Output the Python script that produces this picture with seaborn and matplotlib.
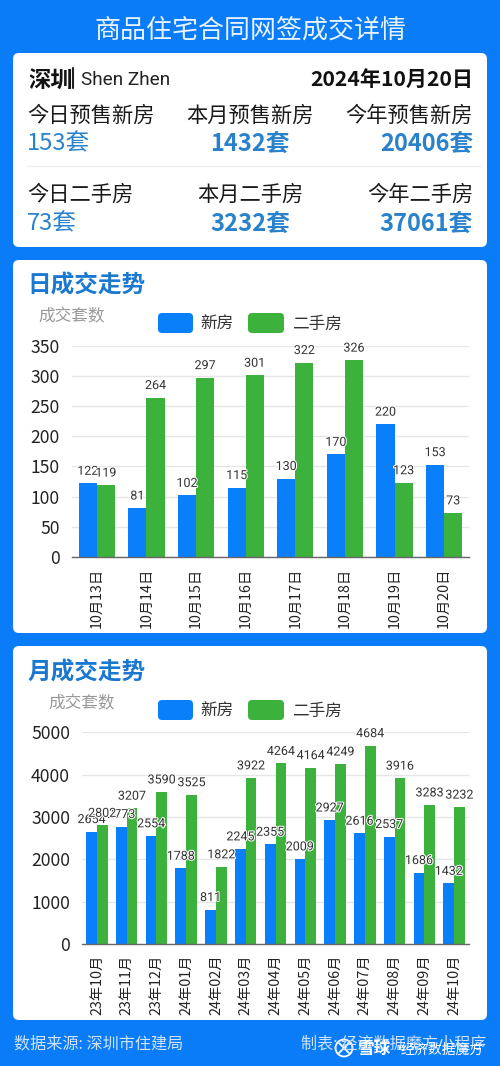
import matplotlib
matplotlib.use("Agg")
import matplotlib.pyplot as plt
import matplotlib.patches as patches
import matplotlib.patheffects as effects
import pandas as pd
import seaborn as sns

sns.set_theme(style="white")
plt.rcParams['font.family'] = ['Noto Sans CJK SC', 'DejaVu Sans']

W, H = 500, 1066
bg_color = "#0a7cf7"
new_color = "#0a7ffa"
used_color = "#3cb13c"
title_color = "#1b78d0"
value_color = "#2a82cc"

day_labels = ["10月13日", "10月14日", "10月15日", "10月16日", "10月17日", "10月18日", "10月19日", "10月20日"]
day_new = [122, 81, 102, 115, 130, 170, 220, 153]
day_used = [119, 264, 297, 301, 322, 326, 123, 73]

month_labels = ["23年10月", "23年11月", "23年12月", "24年01月", "24年02月", "24年03月", "24年04月",
                "24年05月", "24年06月", "24年07月", "24年08月", "24年09月", "24年10月"]
month_new = [2654, 2773, 2554, 1788, 811, 2245, 2355, 2009, 2927, 2616, 2537, 1686, 1432]
month_used = [2802, 3207, 3590, 3525, 1822, 3922, 4264, 4164, 4249, 4684, 3916, 3283, 3232]

presale_heads = ["今日预售新房", "本月预售新房", "今年预售新房"]
presale_values = ["153套", "1432套", "20406套"]
resale_heads = ["今日二手房", "本月二手房", "今年二手房"]
resale_values = ["73套", "3232套", "37061套"]


def card(bg, top, bottom):
    bg.add_patch(patches.FancyBboxPatch((13 + 5, top + 5), 474 - 10, bottom - top - 10,
                                        boxstyle="round,pad=5,rounding_size=6",
                                        facecolor="white", edgecolor="none"))


def legend_key(bg, x0, x1, yc, color):
    bg.add_patch(patches.FancyBboxPatch((x0 + 3, yc - 7), x1 - x0 - 6, 14,
                                        boxstyle="round,pad=3,rounding_size=4",
                                        facecolor=color, edgecolor="none"))


def bar_panel(fig, bg, left, y_top, y_zero, labels, new, used, ymax, step, title, title_x, title_y,
              unit_x, unit_y, legend_y, width):
    ax = fig.add_axes([left / W, 1 - y_zero / H, (469 - left) / W, (y_zero - y_top) / H])
    ax.patch.set_alpha(0)
    df = pd.DataFrame({"date": labels * 2,
                       "count": new + used,
                       "kind": ["新房"] * len(labels) + ["二手房"] * len(labels)})
    sns.barplot(data=df, x="date", y="count", hue="kind", hue_order=["新房", "二手房"],
                palette=[new_color, used_color], saturation=1, width=width, gap=0,
                linewidth=0, legend=False, ax=ax, zorder=2)
    ax.set_ylim(0, ymax)
    ax.set_xlim(-0.5, len(labels) - 0.5)
    ax.set_yticks(range(0, ymax + 1, step))
    ax.set_xlabel("")
    ax.set_ylabel("")
    ax.grid(axis="y", color="#e6e6e6", lw=1)
    ax.set_axisbelow(True)
    for side in ["top", "left", "right"]:
        ax.spines[side].set_visible(False)
    ax.spines["bottom"].set_color("#666666")
    ax.spines["bottom"].set_linewidth(1)
    ax.tick_params(axis="y", length=0, pad=8.6, labelsize=12.6, labelcolor="#222222")
    ax.tick_params(axis="x", length=0, pad=7.5, labelsize=10.3, labelcolor="#222222", labelrotation=90)
    for container in ax.containers:
        texts = ax.bar_label(container, padding=4, fontsize=9, color="#333333", fontfamily="Roboto")
        for t in texts:
            t.set_path_effects([effects.withStroke(linewidth=1.5, foreground="white")])
            t.set_zorder(5)

    bg.text(title_x, title_y + 2, title, fontsize=17, fontweight="bold",
            color=title_color, va="center", ha="left")
    bg.text(unit_x, unit_y + 2, "成交套数", fontsize=12, color="#999999", va="center", ha="left")
    legend_key(bg, 158, 193, legend_y, new_color)
    legend_key(bg, 248, 284, legend_y, used_color)
    bg.text(200, legend_y + 1.5, "新房", fontsize=12, color="#333333", va="center", ha="left")
    bg.text(292, legend_y + 1.5, "二手房", fontsize=12, color="#333333", va="center", ha="left")
    return ax


fig = plt.figure(figsize=(W / 100, H / 100), dpi=100, facecolor=bg_color)
bg = fig.add_axes([0, 0, 1, 1], zorder=0)
bg.set_xlim(0, W)
bg.set_ylim(H, 0)
bg.axis("off")

bg.text(250, 30, "商品住宅合同网签成交详情", fontsize=18.7, color="#e8f3ff", ha="center", va="center")

# summary card
card(bg, 53, 247)
bg.text(28, 80, "深圳", fontsize=16, fontweight="bold", color="#111111", va="center")
bg.plot([73, 73], [68, 88], color="#222222", lw=1.5)
bg.text(81, 80, "Shen Zhen", fontsize=13.7, color="#222222", va="center", fontfamily="Roboto")
bg.text(473, 79, "2024年10月20日", fontsize=15.2, fontweight="bold", color="#111111", va="center", ha="right")

columns = [(27, "left"), (250, "center"), (473, "right")]
for (x, align), head, value in zip(columns, presale_heads, presale_values):
    bg.text(x, 116, head, fontsize=15.3, color="#1a1a1a", ha=align, va="center")
    bg.text(x, 144, value, fontsize=17, fontweight="bold" if align != "left" else "normal",
            color=value_color, ha=align, va="center")
bg.plot([27, 480], [165.5, 165.5], color="#efefef", lw=1)
for (x, align), head, value in zip(columns, resale_heads, resale_values):
    bg.text(x, 195, head, fontsize=15.3, color="#1a1a1a", ha=align, va="center")
    bg.text(x, 224, value, fontsize=17, fontweight="bold" if align != "left" else "normal",
            color=value_color, ha=align, va="center")

# chart cards
card(bg, 260, 633)
card(bg, 646, 1020)
bar_panel(fig, bg, 72, 345.7, 557, day_labels, day_new, day_used, 350, 50,
          "日成交走势", 27, 284, 38, 315, 323, 0.73)
bar_panel(fig, bg, 82, 732.3, 944, month_labels, month_new, month_used, 5000, 1000,
          "月成交走势", 28, 671, 48, 702, 710, 0.72)

# footer and watermark
bg.text(14, 1044, "数据来源: 深圳市住建局", fontsize=11.6, color="#cfe3fb", va="center")
bg.text(486, 1044, "制表: 经济数据魔方小程序", fontsize=11.6, color="#cfe3fb", va="center", ha="right")
bg.add_patch(patches.Circle((344, 1048), 8.5, facecolor="none", edgecolor="white", lw=1.3))
bg.plot([339, 349], [1043, 1053], color="white", lw=1.3)
bg.plot([339, 349], [1053, 1043], color="white", lw=1.3)
bg.text(357, 1049, "雪球", fontsize=12, fontweight="bold", color="white", va="center")
bg.text(392, 1049, "·", fontsize=10, color="white", va="center")
bg.text(484, 1050, "经济数据魔方", fontsize=10, color="white", va="center", ha="right")

fig.savefig("out.png", dpi=100, facecolor=bg_color)
